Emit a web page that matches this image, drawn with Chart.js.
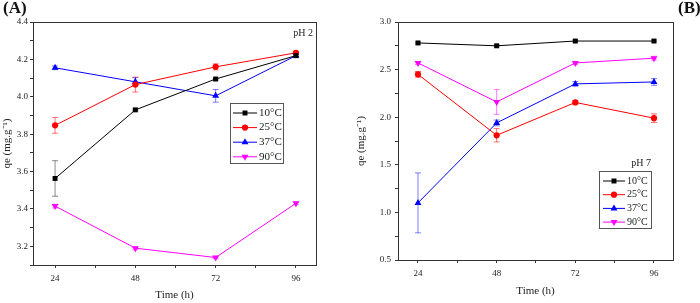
<!DOCTYPE html>
<html>
<head>
<meta charset="utf-8">
<script src="https://cdn.jsdelivr.net/npm/chart.js@4/dist/chart.umd.min.js"></script>
<style>
  html, body { margin: 0; padding: 0; background: #fff; }
  #wrap { position: relative; width: 700px; height: 303px; overflow: hidden; }
  .panel { position: absolute; top: 0; width: 350px; height: 303px; }
  #pA { left: 0; }
  #pB { left: 350px; }
  .tag { position: absolute; top: -2px; font: bold 17px "Liberation Serif", serif; color: #111; }
</style>
</head>
<body>
<div id="wrap">
  <div class="panel" id="pA"><canvas id="chartA" width="350" height="303"></canvas></div>
  <div class="panel" id="pB"><canvas id="chartB" width="350" height="303"></canvas></div>
  <div class="tag" style="left:3px">(A)</div>
  <div class="tag" style="left:678px">(B)</div>
</div>
<script>
// time points and tick labels
const hours = [24, 48, 72, 96];
const xTickValues = [24, 36, 48, 60, 72, 84, 96];
const xTickLabels = ["24", "", "48", "", "72", "", "96"];
const tempLabels = ["10°C", "25°C", "37°C", "90°C"];

// pH 2 (panel A)
const ph2_10 = [3.563, 3.93, 4.095, 4.22];
const ph2_25 = [3.847, 4.065, 4.16, 4.235];
const ph2_37 = [4.155, 4.08, 4.005, 4.22];
const ph2_90 = [3.415, 3.19, 3.14, 3.43];
const ph2_10_err = [0.095, 0.005, 0.005, 0.005];
const ph2_25_err = [0.042, 0.04, 0.016, 0.008];
const ph2_37_err = [0.01, 0.022, 0.034, 0.008];
const ph2_90_err = [0.01, 0.008, 0.006, 0.006];

// pH 7 (panel B)
const ph7_10 = [2.78, 2.75, 2.80, 2.80];
const ph7_25 = [2.45, 1.81, 2.155, 1.99];
const ph7_37 = [1.10, 1.94, 2.35, 2.37];
const ph7_90 = [2.57, 2.16, 2.57, 2.62];
const ph7_10_err = [0.01, 0.01, 0.01, 0.01];
const ph7_25_err = [0.03, 0.07, 0.02, 0.045];
const ph7_37_err = [0.315, 0.03, 0.025, 0.035];
const ph7_90_err = [0.015, 0.13, 0.015, 0.02];

const colors = ["#000000", "#ff0000", "#0000ff", "#ff00ff"];
const errColors = ["rgba(0,0,0,0.45)", "rgba(255,0,0,0.55)", "rgba(0,0,255,0.5)", "rgba(255,0,255,0.5)"];
const styles = [
  { pointStyle: "rect", rotation: 0, radius: 3.5 },
  { pointStyle: "circle", rotation: 0, radius: 3.1 },
  { pointStyle: "triangle", rotation: 0, radius: 4 },
  { pointStyle: "triangle", rotation: 180, radius: 4 },
];
const serif = "'Liberation Serif', 'Times New Roman', serif";

function makeDataset(i, values, errs) {
  return {
    label: tempLabels[i],
    data: hours.map((h, j) => ({ x: h, y: values[j] })),
    errors: errs,
    errColor: errColors[i],
    borderColor: colors[i],
    backgroundColor: colors[i],
    borderWidth: 1,
    pointStyle: styles[i].pointStyle,
    rotation: styles[i].rotation,
    pointRadius: styles[i].radius,
    pointBorderWidth: 0,
    tension: 0,
  };
}

// error bars, drawn behind the markers
const errorBars = {
  id: "errorBars",
  beforeDatasetsDraw(chart) {
    const ctx = chart.ctx;
    const ys = chart.scales.y;
    ctx.save();
    chart.data.datasets.forEach((ds, i) => {
      const meta = chart.getDatasetMeta(i);
      meta.data.forEach((pt, j) => {
        const e = ds.errors[j];
        if (!e) return;
        const v = ds.data[j].y;
        const top = ys.getPixelForValue(v + e);
        const bot = ys.getPixelForValue(v - e);
        ctx.strokeStyle = ds.errColor;
        ctx.lineWidth = 1;
        ctx.beginPath();
        ctx.moveTo(pt.x, top); ctx.lineTo(pt.x, bot);
        ctx.moveTo(pt.x - 3, top); ctx.lineTo(pt.x + 3, top);
        ctx.moveTo(pt.x - 3, bot); ctx.lineTo(pt.x + 3, bot);
        ctx.stroke();
      });
    });
    ctx.restore();
  },
};

// frame + inset legend + pH note
const frameLegend = {
  id: "frameLegend",
  afterDraw(chart, args, opts) {
    const ctx = chart.ctx;
    const a = chart.chartArea;
    ctx.save();
    ctx.strokeStyle = "#333";
    ctx.lineWidth = 1;
    ctx.strokeRect(a.left + 0.5, a.top + 0.5, a.right - a.left, a.bottom - a.top);

    const L = opts.box;
    ctx.strokeStyle = "#555";
    ctx.strokeRect(L.x + 0.5, L.y + 0.5, L.w, L.h);
    ctx.font = L.font + "px " + serif;
    ctx.textBaseline = "middle";
    chart.data.datasets.forEach((ds, i) => {
      const y = L.row0 + i * L.step;
      ctx.strokeStyle = ds.borderColor;
      ctx.beginPath();
      ctx.moveTo(L.x + L.line0, y); ctx.lineTo(L.x + L.line1, y);
      ctx.stroke();
      ctx.fillStyle = ds.borderColor;
      Chart.helpers.drawPoint(ctx, {
        pointStyle: ds.pointStyle, rotation: ds.rotation,
        radius: ds.pointRadius, borderWidth: 0,
      }, L.x + (L.line0 + L.line1) / 2, y);
      ctx.fillStyle = "#222";
      ctx.textAlign = "left";
      ctx.fillText(ds.label, L.x + L.text, y);
    });

    ctx.fillStyle = "#222";
    ctx.font = opts.noteFont + "px " + serif;
    ctx.textAlign = "right";
    ctx.fillText(opts.note, opts.noteX, opts.noteY);
    ctx.restore();
  },
};

function makeChart(id, datasets, cfg) {
  return new Chart(document.getElementById(id).getContext("2d"), {
    type: "line",
    data: { datasets: datasets },
    plugins: [errorBars, frameLegend],
    options: {
      responsive: false,
      animation: false,
      layout: { padding: cfg.padding },
      plugins: {
        legend: { display: false },
        tooltip: { enabled: false },
        frameLegend: cfg.legend,
      },
      scales: {
        x: {
          type: "linear",
          min: cfg.xMin,
          max: cfg.xMax,
          afterBuildTicks(scale) {
            scale.ticks = xTickValues.map((v) => ({ value: v }));
          },
          afterFit(scale) { scale.height = cfg.xHeight; },
          grid: { drawOnChartArea: false, tickLength: 3, color: "#333" },
          border: { color: "#333" },
          ticks: {
            autoSkip: false,
            maxRotation: 0,
            padding: cfg.xPad,
            color: "#222",
            font: { family: serif, size: 9 },
            callback: (v) => xTickLabels[xTickValues.indexOf(v)],
          },
          title: {
            display: true,
            text: "Time (h)",
            color: "#222",
            padding: 0,
            font: { family: serif, size: 11 },
          },
        },
        y: {
          min: cfg.yMin,
          max: cfg.yMax,
          afterFit(scale) { scale.width = cfg.yWidth; },
          grid: { drawOnChartArea: false, tickLength: 3, color: "#333" },
          border: { color: "#333" },
          ticks: {
            stepSize: cfg.yStep,
            padding: cfg.yPad,
            color: "#222",
            font: { family: serif, size: 9 },
            callback: (v) => (Math.abs(v / cfg.yLabelStep - Math.round(v / cfg.yLabelStep)) < 1e-6 ? v.toFixed(1) : ""),
          },
          title: {
            display: true,
            text: "qe (mg.g⁻¹)",
            color: "#222",
            padding: 0,
            font: { family: serif, size: 11 },
          },
        },
      },
    },
  });
}

makeChart("chartA", [
  makeDataset(0, ph2_10, ph2_10_err),
  makeDataset(1, ph2_25, ph2_25_err),
  makeDataset(2, ph2_37, ph2_37_err),
  makeDataset(3, ph2_90, ph2_90_err),
], {
  padding: { top: 22, right: 34, bottom: 1, left: 1 },
  xMin: 17.4, xMax: 102, xHeight: 37, xPad: 5,
  yMin: 3.1, yMax: 4.4, yStep: 0.1, yLabelStep: 0.2, yWidth: 32, yPad: 2,
  legend: {
    box: { x: 230, y: 103, w: 53, h: 60, row0: 113, step: 14.6, line0: 3, line1: 27, text: 29, font: 11 },
    note: "pH 2", noteX: 313, noteY: 33, noteFont: 10,
  },
});

makeChart("chartB", [
  makeDataset(0, ph7_10, ph7_10_err),
  makeDataset(1, ph7_25, ph7_25_err),
  makeDataset(2, ph7_37, ph7_37_err),
  makeDataset(3, ph7_90, ph7_90_err),
], {
  padding: { top: 22, right: 27, bottom: 5, left: 5 },
  xMin: 17.9, xMax: 101.8, xHeight: 38, xPad: 5,
  yMin: 0.5, yMax: 3.0, yStep: 0.25, yLabelStep: 0.5, yWidth: 43, yPad: 4,
  legend: {
    box: { x: 249, y: 171, w: 52, h: 57, row0: 181, step: 13.7, line0: 4, line1: 26, text: 28, font: 10 },
    note: "pH 7", noteX: 301, noteY: 163, noteFont: 10,
  },
});
</script>
</body>
</html>
